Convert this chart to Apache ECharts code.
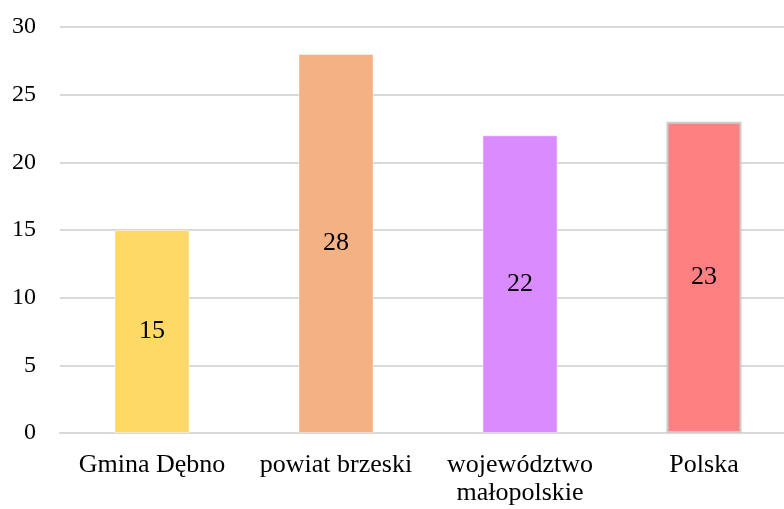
<!DOCTYPE html>
<html>
<head>
<meta charset="utf-8">
<script src="https://cdn.jsdelivr.net/npm/echarts@6/dist/echarts.min.js"></script>
<style>
  html, body { margin: 0; padding: 0; background: #fff; overflow: hidden; }
  #chart { width: 796px; height: 509px; }
</style>
</head>
<body>
<div id="chart"></div>
<script>
  var categories = ['Gmina Dębno', 'powiat brzeski', 'województwo\nmałopolskie', 'Polska']
  var values = [15, 28, 22, 23]
  var barColors = ['#FFD966', '#F4B183', '#DA8CFF', '#FF8080']
  var yTicks = { min: 0, max: 30, interval: 5 }

  var font = '"Liberation Serif", "Times New Roman", serif'

  var chart = echarts.init(document.getElementById('chart'))
  chart.setOption({
    animation: false,
    grid: { left: 60, right: 0, top: 27, bottom: 76 },
    xAxis: {
      type: 'category',
      data: categories,
      axisLine: { show: true, lineStyle: { color: '#d9d9d9', width: 2 } },
      axisTick: { show: false },
      axisLabel: { interval: 0, color: '#000', fontFamily: font, fontSize: 26, margin: 18, lineHeight: 28 }
    },
    yAxis: {
      type: 'value',
      min: yTicks.min,
      max: yTicks.max,
      interval: yTicks.interval,
      axisLine: { show: false },
      axisTick: { show: false },
      axisLabel: { color: '#000', fontFamily: font, fontSize: 24, margin: 24 },
      splitLine: { lineStyle: { color: '#d9d9d9', width: 2 } }
    },
    series: [{
      type: 'bar',
      barWidth: 75,
      data: values.map(function (v, i) {
        return {
          value: v,
          itemStyle: {
            color: barColors[i],
            borderColor: i === 3 ? '#cccccc' : 'rgba(255,255,255,0.4)',
            borderWidth: i === 3 ? 2 : 1
          }
        }
      }),
      label: {
        show: true,
        position: 'inside',
        color: '#000',
        fontFamily: font,
        fontSize: 26
      }
    }]
  })
</script>
</body>
</html>
